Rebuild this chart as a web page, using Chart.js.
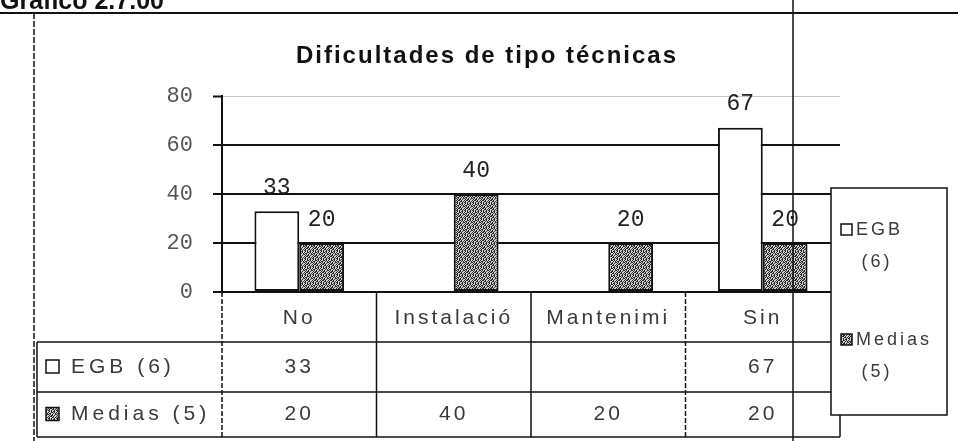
<!DOCTYPE html>
<html>
<head>
<meta charset="utf-8">
<script src="https://cdn.jsdelivr.net/npm/chart.js@4.4.1/dist/chart.umd.min.js"></script>
<style>
  html, body { margin: 0; padding: 0; background: #fff; }
  canvas { display: block; }
</style>
</head>
<body>
<canvas id="chart" width="958" height="441"></canvas>
<script>
// data
var categories = ['No', 'Instalació', 'Mantenimi', 'Sin'];
var egbValues = [33, null, null, 67];
var mediasValues = [20, 40, 20, 20];
var seriesNames = ['EGB (6)', 'Medias (5)'];
var yTicks = [0, 20, 40, 60, 80];
var chartTitle = 'Dificultades de tipo técnicas';
var pageHeading = 'Gráfico 2.7.00';

var INK = '#111';
var TEXT = '#3a3a3a';

// speckled grey fill like the old Excel pattern (fixed dot layout)
function speckle() {
  var rows = [
    '#.##.#..',
    '.#..##.#',
    '##.#..#.',
    '.#.#.##.',
    '#..##.#.',
    '.##..#.#',
    '#.#.#..#',
    '.#.##.#.'
  ];
  var c = document.createElement('canvas');
  c.width = 8; c.height = 8;
  var g = c.getContext('2d');
  g.fillStyle = '#d4d4d4';
  g.fillRect(0, 0, 8, 8);
  g.fillStyle = '#262626';
  rows.forEach(function (r, y) {
    for (var x = 0; x < r.length; x++) if (r[x] === '#') g.fillRect(x, y, 1, 1);
  });
  return g.createPattern(c, 'repeat');
}

var medFill = speckle();
var fills = ['#ffffff', medFill];

function line(ctx, x1, y1, x2, y2, w, dash) {
  ctx.save();
  ctx.beginPath();
  ctx.lineWidth = w || 1.5;
  ctx.strokeStyle = INK;
  ctx.setLineDash(dash || []);
  ctx.moveTo(x1, y1);
  ctx.lineTo(x2, y2);
  ctx.stroke();
  ctx.restore();
}

function keyBox(ctx, x, y, size, i) {
  ctx.save();
  ctx.fillStyle = fills[i];
  ctx.fillRect(x, y, size, size);
  ctx.lineWidth = 1.5;
  ctx.strokeStyle = INK;
  ctx.strokeRect(x, y, size, size);
  ctx.restore();
}

function spacedText(ctx, txt, x, y, font, spacing, align, color) {
  ctx.save();
  ctx.font = font;
  ctx.letterSpacing = spacing + 'px';
  ctx.fillStyle = color || TEXT;
  ctx.textAlign = align || 'left';
  ctx.textBaseline = 'middle';
  ctx.fillText(txt, x, y);
  ctx.restore();
}

// value labels above each bar
var barLabels = {
  id: 'barLabels',
  afterDatasetsDraw: function (chart) {
    var ctx = chart.ctx;
    ctx.save();
    ctx.font = '23px "Liberation Mono", monospace';
    ctx.fillStyle = '#222';
    ctx.textAlign = 'center';
    ctx.textBaseline = 'bottom';
    chart.data.datasets.forEach(function (ds, di) {
      chart.getDatasetMeta(di).data.forEach(function (bar, i) {
        if (ds.data[i] == null) return;
        ctx.fillText(String(ds.data[i]), bar.x, bar.y - 12);
      });
    });
    ctx.restore();
  }
};

// data table under the plot, side legend, title and the scan's page marks
var sheet = {
  id: 'sheet',
  afterDraw: function (chart) {
    var ctx = chart.ctx;
    var area = chart.chartArea;
    var xs = chart.scales.x;
    var step = (area.right - area.left) / categories.length;
    var rowTops = [area.bottom, area.bottom + 50, area.bottom + 100, area.bottom + 145];
    var tableLeft = 37;
    var font = '21px "Liberation Sans", Arial, sans-serif';

    // table grid
    for (var r = 1; r < rowTops.length; r++) {
      line(ctx, tableLeft, rowTops[r], area.right, rowTops[r], 1.5);
    }
    line(ctx, tableLeft, rowTops[1], tableLeft, rowTops[3], 1.5);
    line(ctx, area.left, area.bottom, area.left, rowTops[3], 1.5, [5, 2]);
    categories.forEach(function (c, i) {
      var xr = xs.getPixelForValue(i) + step / 2;
      line(ctx, xr, area.bottom, xr, rowTops[3], 1.5, i === 2 ? [5, 2] : null);
    });

    // header row + value rows
    var rows = [egbValues, mediasValues];
    categories.forEach(function (c, i) {
      var cx = xs.getPixelForValue(i);
      spacedText(ctx, c, cx, (rowTops[0] + rowTops[1]) / 2 + 1, font, 3, 'center');
      rows.forEach(function (vals, ri) {
        if (vals[i] == null) return;
        spacedText(ctx, String(vals[i]), cx, (rowTops[ri + 1] + rowTops[ri + 2]) / 2, font, 3, 'center');
      });
    });
    seriesNames.forEach(function (name, ri) {
      var cy = (rowTops[ri + 1] + rowTops[ri + 2]) / 2;
      keyBox(ctx, 46, cy - 7, 13, ri);
      spacedText(ctx, name, 71, cy, font, 4, 'left');
    });

    // legend box on the right
    var lx = 831, ly = 188, lw = 116, lh = 227;
    ctx.save();
    ctx.fillStyle = '#fff';
    ctx.fillRect(lx, ly, lw, lh);
    ctx.lineWidth = 1.5;
    ctx.strokeStyle = INK;
    ctx.strokeRect(lx, ly, lw, lh);
    ctx.restore();
    var lfont = '18px "Liberation Sans", Arial, sans-serif';
    seriesNames.forEach(function (name, i) {
      var parts = name.split(' ');
      var top = ly + 42 + i * 110;
      keyBox(ctx, lx + 10, top - 6, 11, i);
      spacedText(ctx, parts[0], lx + 25, top, lfont, 3, 'left');
      spacedText(ctx, parts.slice(1).join(' '), lx + 46, top + 32, lfont, 3, 'center');
    });

    // chart title
    spacedText(ctx, chartTitle, 487, 56, 'bold 24px "Liberation Sans", Arial, sans-serif', 2, 'center', INK);

    // scanned page: heading cut at the top, rule and margin lines
    ctx.save();
    ctx.font = 'bold 25px "Liberation Sans", Arial, sans-serif';
    ctx.fillStyle = INK;
    ctx.textBaseline = 'alphabetic';
    ctx.fillText(pageHeading, 0, 9);
    ctx.restore();
    line(ctx, 0, 13, 958, 13, 2);
    line(ctx, 34, 13, 34, 441, 1.5, [6, 2]);
    line(ctx, 793, 0, 793, 441, 1.5);
  }
};

new Chart(document.getElementById('chart'), {
  type: 'bar',
  data: {
    labels: categories,
    datasets: [
      { label: seriesNames[0], data: egbValues, backgroundColor: fills[0], borderColor: INK, borderWidth: 2, borderSkipped: false },
      { label: seriesNames[1], data: mediasValues, backgroundColor: fills[1], borderColor: INK, borderWidth: 2, borderSkipped: false }
    ]
  },
  options: {
    responsive: false,
    animation: false,
    layout: { padding: { top: 96, left: 0, right: 118, bottom: 0 } },
    datasets: { bar: { categoryPercentage: 0.58, barPercentage: 1.0 } },
    plugins: {
      legend: { display: false },
      title: { display: false },
      tooltip: { enabled: false }
    },
    scales: {
      x: {
        grid: { display: false },
        border: { display: false },
        ticks: { display: false },
        afterFit: function (s) { s.height = 149; s.paddingLeft = 0; s.paddingRight = 0; }
      },
      y: {
        min: 0,
        max: 80,
        afterBuildTicks: function (s) { s.ticks = yTicks.map(function (v) { return { value: v }; }); },
        grid: {
          color: function (c) { return c.tick && c.tick.value === 80 ? 'rgba(0,0,0,0.22)' : INK; },
          lineWidth: function (c) { return c.tick && c.tick.value === 80 ? 1 : 2; },
          tickColor: INK,
          tickWidth: 2,
          tickLength: 9
        },
        border: { color: INK, width: 2 },
        ticks: { color: '#555', font: { family: '"Liberation Mono", monospace', size: 22 }, padding: 20 },
        afterFit: function (s) { s.width = 222; s.paddingTop = 0; s.paddingBottom = 0; }
      }
    }
  },
  plugins: [barLabels, sheet]
});
</script>
</body>
</html>
